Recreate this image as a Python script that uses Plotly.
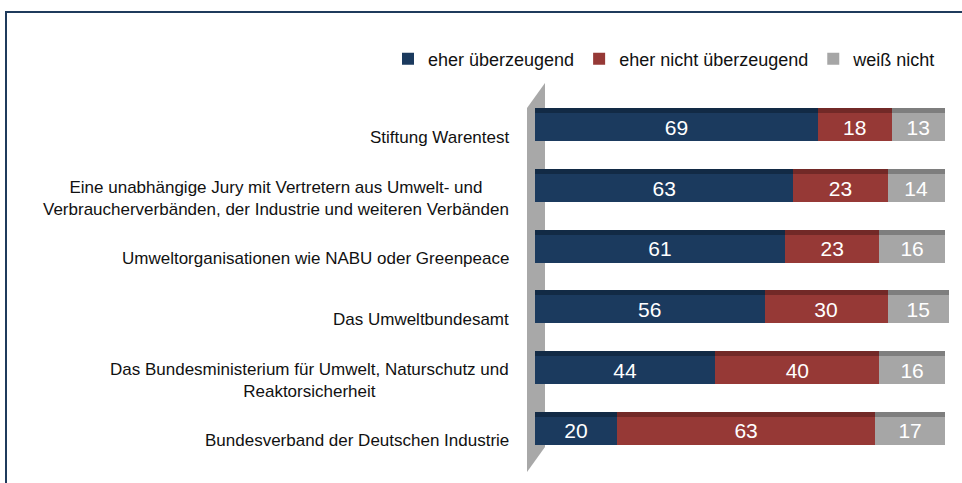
import plotly.graph_objects as go

categories = [
    "Stiftung Warentest",
    "Eine unabhängige Jury mit Vertretern aus Umwelt- und<br>Verbraucherverbänden, der Industrie und weiteren Verbänden",
    "Umweltorganisationen wie NABU oder Greenpeace",
    "Das Umweltbundesamt",
    "Das Bundesministerium für Umwelt, Naturschutz und<br>Reaktorsicherheit",
    "Bundesverband der Deutschen Industrie",
]
ueberzeugend = [69, 63, 61, 56, 44, 20]
nicht_ueberzeugend = [18, 23, 23, 30, 40, 63]
weiss_nicht = [13, 14, 16, 15, 16, 17]

series = [
    ("eher überzeugend", ueberzeugend, "#1B3A5E", "#122a45"),
    ("eher nicht überzeugend", nicht_ueberzeugend, "#963936", "#722927"),
    ("weiß nicht", weiss_nicht, "#A6A6A6", "#7e7e7e"),
]

W, H = 962, 483
L, R, T, B = 535, 13, 97, 22
FONT = "Liberation Sans, Arial, sans-serif"


def px_x(x):
    return (x - L) / (W - L - R)


def px_y(y):
    return (H - B - y) / (H - T - B)


fig = go.Figure()

for name, vals, col, top in series:
    fig.add_trace(go.Bar(
        y=categories, x=vals, name=name, orientation="h",
        marker=dict(color=col, line=dict(width=0)), width=0.46,
        text=vals, textposition="inside", insidetextanchor="middle",
        textfont=dict(color="white", size=21, family=FONT),
        constraintext="none", cliponaxis=False,
    ))

# darker top face of the bars (pseudo 3D)
for name, vals, col, top in series:
    fig.add_trace(go.Bar(
        y=categories, x=vals, orientation="h", yaxis="y2",
        marker=dict(color=top, line=dict(width=0)), width=0.085, offset=-0.315,
        showlegend=False, hoverinfo="skip",
    ))

# side wall
wall = [(527, 108), (545, 83), (545, 447), (527, 472)]
path = "M " + " L ".join(f"{px_x(a)},{px_y(b)}" for a, b in wall) + " Z"
fig.add_shape(type="path", path=path, xref="paper", yref="paper",
              fillcolor="#A8A8A8", line=dict(width=0), layer="below")

# frame
fig.add_shape(type="rect", xref="paper", yref="paper",
              x0=px_x(6), y0=px_y(12), x1=px_x(1000), y1=px_y(520),
              line=dict(color="#1F3B5C", width=2), layer="below")

for cat in categories:
    fig.add_annotation(x=px_x(511), y=cat, xref="paper", yref="y",
                       text=cat, showarrow=False, xanchor="right", align="center",
                       yshift=-10, font=dict(size=17, color="#111111", family=FONT))

fig.update_layout(
    width=W, height=H,
    margin=dict(l=L, r=R, t=T, b=B),
    barmode="stack",
    bargap=0.5,
    plot_bgcolor="white", paper_bgcolor="white",
    font=dict(family=FONT, color="#111111"),
    showlegend=True,
    legend=dict(orientation="h", x=px_x(388), xanchor="left", y=px_y(59), yanchor="middle",
                font=dict(size=18, family=FONT, color="#111111"), traceorder="normal",
                itemwidth=30, tracegroupgap=0),
    xaxis=dict(range=[0, 101], visible=False, fixedrange=True),
    yaxis=dict(categoryorder="array", categoryarray=categories, autorange="reversed",
               showticklabels=False, showgrid=False, zeroline=False, showline=False),
    yaxis2=dict(overlaying="y", categoryorder="array", categoryarray=categories,
                autorange="reversed", visible=False, matches="y"),
)

fig.write_html("out.html", config={"displayModeBar": False},
               post_script="document.body.style.margin='0';")
